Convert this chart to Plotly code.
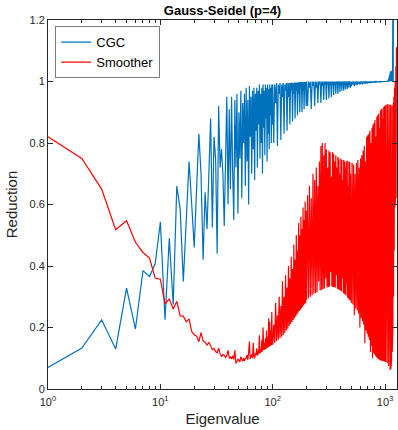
import math
import plotly.graph_objects as go

# ---------------- data ----------------
# eigenvalue index segments: (start, step)
cgc_1 = [0.07,0.133,0.225,0.13,0.328,0.195,0.385,0.366,0.408,0.544,
 0.225,0.49,0.275,0.66,0.585,0.35,0.55,0.74,0.6,0.46,
 0.65,0.83,0.7,0.42,0.64,0.52,0.7,0.88,0.525,0.82,
 0.75,0.44,0.92,0.72,0.78,0.7,0.53,0.8,0.95,0.6,
 0.91,0.65,0.95,0.7,0.55,0.94,0.72,0.96,0.57,0.9,
 0.75,0.97,0.62,0.93,0.8,0.96,0.66,0.98,0.74,0.94,
 0.6,0.985,0.82,0.95,0.7,0.97,0.78,0.98,0.68,0.96,
 0.84,0.98,0.72,0.97,0.86,0.99,0.75,0.96,0.8,0.98,
 0.7,0.99,0.85,0.97,0.76,0.99,0.88,0.98,0.74,0.99,
 0.83,0.975,0.78,0.99,0.89,0.98,0.8,0.99,0.86]
cgc_2 = [0.99,0.8,0.99,0.93,0.995,0.79,0.99,0.96,0.995,0.81,
 0.99,0.95,0.995,0.83,0.99,0.97,0.995,0.84,0.995,0.95,
 0.995,0.86,0.995,0.97,0.997,0.87,0.995,0.96,0.997,0.88,
 0.997,0.97,0.997,0.89,0.997,0.96,0.998,0.9,0.998,0.98,
 0.998,0.9,0.998,0.97,0.998,0.91,0.998,0.98,0.998,0.92]
cgc_3 = [1.0,0.92,1.0,0.98,1.0,0.91,1.0,0.985,1.0,0.92,
 1.0,0.98,1.0,0.93,1.0,0.99,1.0,0.93,1.0,0.985,
 1.0,0.94,1.0,0.99,1.0,0.94,1.0,0.99,1.0,0.945,
 1.0,0.99,1.0,0.95,1.0,0.99,1.0,0.955,1.0,0.99,
 1.0,0.96,1.0,0.995,1.0,0.96,1.0,0.995,1.0,0.965,
 1.0,0.99,1.0,0.97,1.0,0.995,1.0,0.97,1.0,0.995,
 1.0,0.975,1.0,0.995,1.0,0.975,1.0,0.995,1.0,0.98,
 1.0,0.995,1.0,0.98,1.0]
cgc_4 = [0.985,1.0,0.99,1.0,0.985,1.0,0.99,1.0,0.988,1.0,
 0.992,1.0,0.99,1.0,0.993,1.0,0.99,1.0,0.994,1.0,
 0.992,1.0,0.995,1.0,0.993,1.0,0.995,1.0,0.995,1.0,
 0.996,1.0,0.995,1.0,0.997,1.0,0.996,1.0,0.997,1.0,
 0.998,1.0,0.997,1.0,0.998,1.0,0.998,1.0,0.999,1.0,
 0.998,1.0,0.999,1.0,0.999,1.0,1.0,1.0,1.0,1.0,
 1.0,1.0,1.0,1.0,1.0,1.0,1.0,1.0,1.0,1.0,
 1.005,1.0,1.01,1.0,1.02,1.0,1.03,1.0,1.035,1.0,
 1.03,1.0,1.035,1.01,1.3,1.0,1.5,1.2,2.0,1.5,
 2.5,2.0,3.0,2.5,3.0,3.5,4.0]

smoother_1 = [0.82,0.75,0.65,0.518,0.547,0.477,0.444,0.426,0.36,0.357,
 0.276,0.293,0.26,0.285,0.238,0.237,0.219,0.228,0.187,0.176,
 0.172,0.154,0.183,0.156,0.152,0.143,0.152,0.14,0.128,0.132,
 0.122,0.118,0.133,0.115,0.105,0.112,0.11,0.102,0.108,0.126,
 0.1,0.104,0.098,0.108,0.096,0.126,0.083,0.09,0.097,0.094,
 0.088,0.105,0.096,0.09,0.1,0.092,0.098,0.1,0.11,0.095,
 0.12,0.154,0.098,0.104,0.112,0.1,0.15,0.106,0.1,0.116,
 0.11,0.132,0.108,0.125,0.114,0.175,0.116,0.13,0.12,0.16,
 0.122,0.2,0.127,0.15,0.128,0.165,0.13,0.19,0.134,0.17,
 0.135,0.23,0.138,0.218,0.14,0.19,0.142,0.25,0.145]
smoother_2 = [0.146,0.21,0.15,0.28,0.155,0.24,0.16,0.3,0.165,0.27,
 0.17,0.35,0.176,0.3,0.182,0.37,0.19,0.33,0.196,0.4,
 0.205,0.36,0.212,0.43,0.218,0.39,0.224,0.47,0.23,0.42,
 0.236,0.5,0.242,0.45,0.248,0.54,0.254,0.5,0.258,0.56,
 0.263,0.52,0.267,0.59,0.272,0.55,0.276,0.61,0.28,0.58]
smoother_3 = [0.29,0.63,0.295,0.66,0.3,0.62,0.305,0.7,0.31,0.68,
 0.312,0.72,0.315,0.66,0.35,0.74,0.32,0.79,0.322,0.8,
 0.325,0.76,0.327,0.8,0.36,0.78,0.33,0.72,0.332,0.775,
 0.333,0.77,0.38,0.69,0.333,0.77,0.332,0.765,0.331,0.74,
 0.33,0.76,0.37,0.72,0.326,0.755,0.324,0.75,0.322,0.7,
 0.32,0.75,0.318,0.745,0.36,0.68,0.312,0.745,0.31,0.74,
 0.307,0.72,0.304,0.74,0.34,0.742,0.297,0.66,0.294,0.74,
 0.291,0.738,0.288,0.7,0.285]
smoother_4 = [0.28,0.735,0.275,0.73,0.24,0.7,0.262,0.735,0.255,0.745,
 0.245,0.72,0.2,0.75,0.23,0.76,0.22,0.775,0.21,0.79,
 0.15,0.74,0.19,0.82,0.18,0.825,0.17,0.83,0.16,0.84,
 0.12,0.8,0.14,0.85,0.1,0.86,0.118,0.865,0.113,0.875,
 0.108,0.82,0.104,0.885,0.1,0.89,0.098,0.895,0.096,0.85,
 0.094,0.905,0.093,0.91,0.092,0.912,0.091,0.88,0.09,0.918,
 0.09,0.92,0.089,0.922,0.088,0.925,0.086,0.9,0.084,0.926,
 0.08,0.926,0.075,0.925,0.068,0.925,0.062,0.924,0.065,0.92,
 0.09,0.922,0.12,0.92,0.2,0.93,0.3,0.95,0.45,0.98,
 0.59,1.0,0.6,1.05,0.62,1.11,1.11]

segments = [(1, 1), (100, 2), (200, 4), (500, 8)]
x_tick_vals = [1, 10, 100, 1000]
x_tick_text = ["10<sup>0</sup>", "10<sup>1</sup>", "10<sup>2</sup>", "10<sup>3</sup>"]
y_tick_vals = [0, 0.2, 0.4, 0.6, 0.8, 1.0, 1.2]
y_tick_text = ["0", "0.2", "0.4", "0.6", "0.8", "1", "1.2"]
x_max = 1275


def build(parts):
    xs, ys = [], []
    for (start, step), vals in zip(segments, parts):
        xs += [start + step * k for k in range(len(vals))]
        ys += vals
    return xs, ys


cgc_x, cgc_y = build([cgc_1, cgc_2, cgc_3, cgc_4])
sm_x, sm_y = build([smoother_1, smoother_2, smoother_3, smoother_4])

minor_vals = [m * d for d in (1, 10, 100, 1000) for m in range(2, 10) if m * d <= x_max]

fig = go.Figure()
fig.add_trace(go.Scatter(x=cgc_x, y=cgc_y, mode="lines", name="CGC",
                         line=dict(color="#0072BD", width=1.2)))
fig.add_trace(go.Scatter(x=sm_x, y=sm_y, mode="lines", name="Smoother",
                         line=dict(color="#FF0000", width=1.2)))

axis_col = "#262626"
fig.update_layout(
    width=398, height=430,
    margin=dict(l=48, r=1, t=20, b=41),
    paper_bgcolor="white", plot_bgcolor="white",
    font=dict(family="Liberation Sans, Arial, sans-serif", size=11, color=axis_col),
    title=dict(text="<b>Gauss-Seidel (p=4)</b>", x=0.5, xref="paper", xanchor="center",
               y=1 - 10 / 430, yref="container", yanchor="middle",
               font=dict(size=13, color="black")),
    showlegend=True,
    legend=dict(x=0.022, y=0.982, xanchor="left", yanchor="top",
                bgcolor="white", bordercolor=axis_col, borderwidth=0.6,
                font=dict(size=13, color="black"), tracegroupgap=0, itemwidth=30),
    xaxis=dict(type="log", range=[0, math.log10(x_max)],
               tickvals=x_tick_vals, ticktext=x_tick_text,
               ticks="inside", ticklen=5, tickcolor=axis_col, tickwidth=0.8,
               showline=True, linecolor=axis_col, linewidth=0.8, mirror="allticks",
               showgrid=False, zeroline=False, ticklabelstandoff=3,
               tickfont=dict(size=11, color=axis_col),
               title=dict(text="Eigenvalue", font=dict(size=15, color=axis_col), standoff=6),
               minor=dict(ticks="inside", ticklen=3, tickvals=minor_vals,
                          tickcolor=axis_col, tickwidth=0.8, showgrid=False)),
    yaxis=dict(range=[0, 1.2], tickvals=y_tick_vals, ticktext=y_tick_text,
               ticks="inside", ticklen=5, tickcolor=axis_col, tickwidth=0.8,
               showline=True, linecolor=axis_col, linewidth=0.8, mirror="allticks",
               showgrid=False, zeroline=False,
               tickfont=dict(size=11, color=axis_col),
               title=dict(text="Reduction", font=dict(size=15, color=axis_col), standoff=8)),
)

fig.write_html("out.html")
